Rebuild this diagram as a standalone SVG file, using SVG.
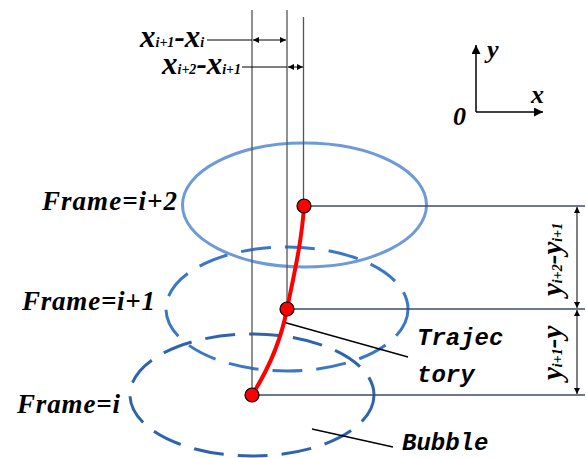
<svg xmlns="http://www.w3.org/2000/svg" width="586" height="458" viewBox="0 0 586 458">
<style>
.lbl{font-family:"Liberation Serif","Times New Roman",serif;font-weight:bold;font-style:italic;fill:#000}
.mono{font-family:"Liberation Mono","DejaVu Sans Mono",monospace;font-style:italic;font-weight:bold;font-size:24px;fill:#000}
.vl{stroke:#555;stroke-width:1.3;fill:none}
.hl{stroke:#3b4b68;stroke-width:1.3;fill:none}
.dim{stroke:#000;stroke-width:1;fill:none}
.dot{fill:#ff0000;stroke:#000;stroke-width:1.2}
.leader{stroke:#000;stroke-width:1.3;fill:none}
</style>
<defs>
<marker id="ah" viewBox="0 0 10 10" refX="10" refY="5" markerWidth="8" markerHeight="6" orient="auto-start-reverse" markerUnits="userSpaceOnUse">
<path d="M0,0 L10,5 L0,10 z" fill="#000"/>
</marker>
<marker id="ax" viewBox="0 0 10 10" refX="10" refY="5" markerWidth="12" markerHeight="9" orient="auto" markerUnits="userSpaceOnUse">
<path d="M0,0 L10,5 L0,10 z" fill="#000"/>
</marker>
</defs>
<rect width="586" height="458" fill="#fff"/>

<g id="bubble-i">
<ellipse cx="252" cy="395" rx="122" ry="61" fill="none" stroke="#2f64ad" stroke-width="3" stroke-dasharray="30 14"/>
</g>
<g id="bubble-i1">
<ellipse cx="287" cy="309" rx="121" ry="62" fill="none" stroke="#3a77c6" stroke-width="3" stroke-dasharray="30 14"/>
</g>
<g id="bubble-i2">
<ellipse cx="304.5" cy="205" rx="122" ry="62" fill="none" stroke="#6e9ad8" stroke-width="3"/>
</g>

<g id="connectors">
<line class="vl" x1="252" y1="10" x2="252" y2="395"/>
<line class="vl" x1="287" y1="10" x2="287" y2="309"/>
<line class="vl" x1="303.5" y1="17" x2="303.5" y2="206"/>
<line class="hl" x1="304" y1="206" x2="585" y2="206"/>
<line class="hl" x1="287" y1="309" x2="585" y2="309"/>
<line class="hl" x1="252" y1="395" x2="585" y2="395"/>
<line class="dim" x1="207" y1="40" x2="252" y2="40"/>
<line class="dim" x1="253" y1="40" x2="286" y2="40" marker-start="url(#ah)" marker-end="url(#ah)"/>
<line class="dim" x1="242" y1="67" x2="287" y2="67"/>
<line class="dim" x1="288" y1="67" x2="303" y2="67" marker-start="url(#ah)" marker-end="url(#ah)"/>
<line class="dim" x1="577" y1="207" x2="577" y2="308" marker-start="url(#ah)" marker-end="url(#ah)"/>
<line class="dim" x1="577" y1="310" x2="577" y2="394" marker-start="url(#ah)" marker-end="url(#ah)"/>
<line class="leader" x1="283" y1="322" x2="408" y2="357"/>
<line class="leader" x1="312" y1="429" x2="393" y2="447"/>
<path d="M252,395 C268,370 281,340 287,309 C294,275 302,240 304,206" fill="none" stroke="#ff0000" stroke-width="4"/>
<line stroke="#000" stroke-width="1.5" x1="476" y1="112" x2="476" y2="45" marker-end="url(#ax)"/>
<line stroke="#000" stroke-width="1.5" x1="476" y1="112" x2="543" y2="112" marker-end="url(#ax)"/>
</g>

<g id="points">
<circle class="dot" cx="304" cy="206" r="7"/>
<circle class="dot" cx="287" cy="309" r="7"/>
<circle class="dot" cx="252" cy="395" r="7"/>
</g>

<g id="labels">
<text class="lbl" x="42" y="210" font-size="27" textLength="135" lengthAdjust="spacing">Frame=i+2</text>
<text class="lbl" x="22" y="310" font-size="27" textLength="133" lengthAdjust="spacing">Frame=i+1</text>
<text class="lbl" x="17" y="413" font-size="27" textLength="103" lengthAdjust="spacing">Frame=i</text>
<text class="lbl" x="140" y="47"><tspan font-size="31">x</tspan><tspan font-size="14">i+1</tspan><tspan font-size="31">-x</tspan><tspan font-size="14">i</tspan></text>
<text class="lbl" x="162" y="74"><tspan font-size="31">x</tspan><tspan font-size="14">i+2</tspan><tspan font-size="31">-x</tspan><tspan font-size="14">i+1</tspan></text>
<text class="lbl" transform="translate(562,296) rotate(-90)"><tspan font-size="29">y</tspan><tspan font-size="14">i+2</tspan><tspan font-size="29">-y</tspan><tspan font-size="14">i+1</tspan></text>
<text class="lbl" transform="translate(562,380) rotate(-90)"><tspan font-size="29">y</tspan><tspan font-size="14">i+1</tspan><tspan font-size="29">-y</tspan></text>
<text class="lbl" x="487" y="58" font-size="26">y</text>
<text class="lbl" x="531" y="103" font-size="26">x</text>
<text class="lbl" x="453" y="125" font-size="26">0</text>
<text class="mono" x="417" y="345">Trajec</text>
<text class="mono" x="417" y="382">tory</text>
<text class="mono" x="402" y="450">Bubble</text>
</g>
</svg>
